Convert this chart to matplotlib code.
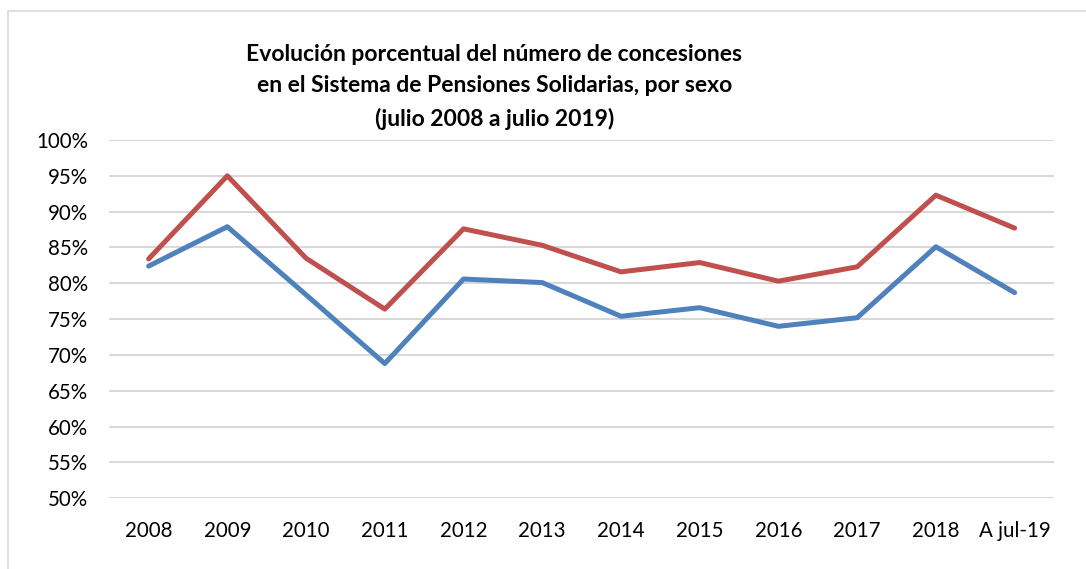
import matplotlib.pyplot as plt
import matplotlib.patches as mpatches
from matplotlib.ticker import FuncFormatter

# Valores (porcentaje)
categorias = ['2008', '2009', '2010', '2011', '2012', '2013', '2014', '2015',
              '2016', '2017', '2018', 'A jul-19']
serie_roja = [83.4, 95.0, 83.5, 76.4, 87.6, 85.3, 81.6, 82.9, 80.3, 82.3, 92.3, 87.7]
serie_azul = [82.4, 87.9, 78.4, 68.8, 80.6, 80.1, 75.4, 76.6, 74.0, 75.2, 85.1, 78.7]
ticks_y = [50, 55, 60, 65, 70, 75, 80, 85, 90, 95, 100]

titulo = ('Evolución porcentual del número de concesiones\n'
          'en el Sistema de Pensiones Solidarias, por sexo\n'
          '(julio 2008 a julio 2019)')

plt.rcParams['font.family'] = ['Lato', 'DejaVu Sans']

fig = plt.figure(figsize=(10.86, 5.69), dpi=100)
ax = fig.add_axes([0.1006, 0.1242, 0.8699, 0.6298])

# borde del area del grafico
W, H = 1086, 569
fig.patches.append(mpatches.Rectangle((8 / W, -0.05), 1.1, 1 - 11 / H + 0.05,
                                      transform=fig.transFigure, fill=False,
                                      edgecolor='#D9D9D9', linewidth=1.2))

x = range(len(categorias))
ax.plot(x, serie_azul, color='#4F81BD', linewidth=3.6, solid_capstyle='round', zorder=3)
ax.plot(x, serie_roja, color='#C0504D', linewidth=3.6, solid_capstyle='round', zorder=3)

ax.set_xlim(-0.5, len(categorias) - 0.5)
ax.set_ylim(50, 100)
ax.set_yticks(ticks_y)
ax.yaxis.set_major_formatter(FuncFormatter(lambda v, p: f'{v:.0f}%'))
ax.set_xticks(list(x))
ax.set_xticklabels(categorias)
ax.grid(axis='y', color='#D9D9D9', linewidth=1.5, zorder=0)
ax.tick_params(axis='both', length=0, labelsize=14.8, colors='black')
ax.tick_params(axis='x', pad=16)
ax.tick_params(axis='y', pad=15)
for s in ax.spines.values():
    s.set_visible(False)

fig.text(0.455, 0.923, titulo, ha='center', va='top', fontsize=16.5,
         fontweight='bold', linespacing=1.62)

fig.savefig('out.png', dpi=100)
